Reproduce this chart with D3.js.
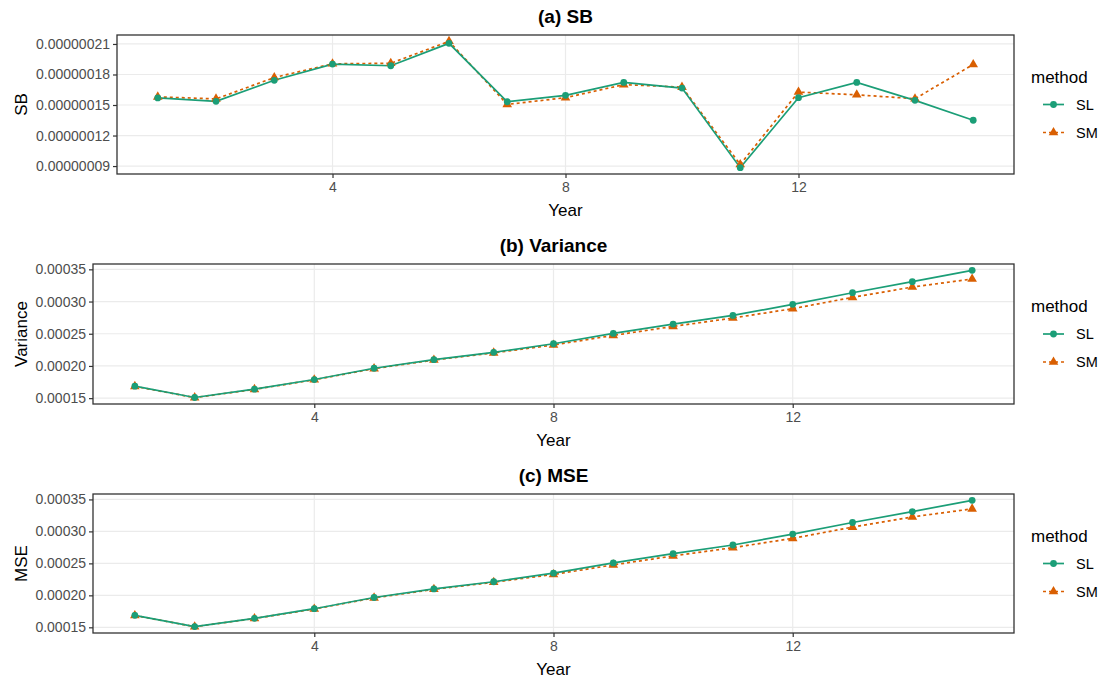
<!DOCTYPE html>
<html>
<head>
<meta charset="utf-8">
<script src="https://cdn.jsdelivr.net/npm/d3@7"></script>
<style>
body{margin:0;background:#fff;}
text{font-family:"Liberation Sans",Arial,sans-serif;}
</style>
</head>
<body>
<svg id="chart" width="1105" height="680"></svg>
<script>
// data
var years = [1,2,3,4,5,6,7,8,9,10,11,12,13,14,15];
var methods = ["SL","SM"];
var xTicks = [4,8,12];

var sbSL = [1.57e-7,1.536e-7,1.743e-7,1.902e-7,1.886e-7,2.106e-7,1.532e-7,1.595e-7,1.722e-7,1.666e-7,0.884e-7,1.572e-7,1.722e-7,1.546e-7,1.35e-7];
var sbSM = [1.58e-7,1.56e-7,1.77e-7,1.905e-7,1.91e-7,2.126e-7,1.506e-7,1.572e-7,1.70e-7,1.676e-7,0.916e-7,1.627e-7,1.60e-7,1.562e-7,1.898e-7];
var sbTicks = [0.9e-7,1.2e-7,1.5e-7,1.8e-7,2.1e-7];

var varSL = [1.686e-4,1.510e-4,1.639e-4,1.789e-4,1.964e-4,2.098e-4,2.211e-4,2.345e-4,2.505e-4,2.650e-4,2.785e-4,2.956e-4,3.137e-4,3.308e-4,3.484e-4];
var varSM = [1.683e-4,1.508e-4,1.636e-4,1.785e-4,1.958e-4,2.092e-4,2.203e-4,2.325e-4,2.474e-4,2.614e-4,2.744e-4,2.889e-4,3.065e-4,3.225e-4,3.350e-4];
var mseSL = [1.688e-4,1.512e-4,1.641e-4,1.791e-4,1.966e-4,2.100e-4,2.213e-4,2.347e-4,2.507e-4,2.652e-4,2.787e-4,2.958e-4,3.139e-4,3.310e-4,3.486e-4];
var mseSM = [1.685e-4,1.510e-4,1.638e-4,1.787e-4,1.960e-4,2.094e-4,2.205e-4,2.327e-4,2.476e-4,2.616e-4,2.746e-4,2.891e-4,3.067e-4,3.227e-4,3.352e-4];
var vTicks = [1.5e-4,2.0e-4,2.5e-4,3.0e-4,3.5e-4];

var colors = {SL:"#1b9e77", SM:"#d95f02"};

var svg = d3.select("#chart");
svg.append("rect").attr("width",1105).attr("height",680).attr("fill","#fff");

function drawPanel(p){
    var g = svg.append("g");
    var x = d3.scaleLinear().domain([0.3,15.7]).range([p.left,p.right]);
    var all = p.sl.concat(p.sm);
    var lo = d3.min(all), hi = d3.max(all), pad=(hi-lo)*0.05;
    var y = d3.scaleLinear().domain([lo-pad,hi+pad]).range([p.bottom,p.top]);

    // grid
    g.selectAll(".gy").data(p.ticks).enter().append("line")
        .attr("x1",p.left).attr("x2",p.right).attr("y1",d=>y(d)).attr("y2",d=>y(d))
        .attr("stroke","#ebebeb").attr("stroke-width",1.2);
    g.selectAll(".gx").data(xTicks).enter().append("line")
        .attr("y1",p.top).attr("y2",p.bottom).attr("x1",d=>x(d)).attr("x2",d=>x(d))
        .attr("stroke","#ebebeb").attr("stroke-width",1.2);

    // axes
    var ya = g.append("g").attr("transform","translate("+p.left+",0)")
        .call(d3.axisLeft(y).tickValues(p.ticks).tickFormat(d3.format(p.fmt)).tickSize(4).tickPadding(3));
    var xa = g.append("g").attr("transform","translate(0,"+p.bottom+")")
        .call(d3.axisBottom(x).tickValues(xTicks).tickSize(4).tickPadding(4));
    [ya,xa].forEach(function(a){
        a.select(".domain").remove();
        a.selectAll("line").attr("stroke","#333").attr("stroke-width",1.2);
        a.selectAll("text").attr("fill","#4d4d4d").style("font-size","14px");
    });

    var series = [{m:"SM",v:p.sm},{m:"SL",v:p.sl}];
    var line = d3.line().x((d,i)=>x(years[i])).y(d=>y(d));
    series.forEach(function(s){
        g.append("path").datum(s.v).attr("d",line).attr("fill","none")
            .attr("stroke",colors[s.m]).attr("stroke-width",1.7)
            .attr("stroke-dasharray",s.m=="SM"?"3,3":null);
    });
    series.forEach(function(s){
        if(s.m=="SM"){
            g.selectAll(null).data(s.v).enter().append("path")
                .attr("d",d3.symbol(d3.symbolTriangle,40))
                .attr("transform",(d,i)=>"translate("+x(years[i])+","+y(d)+")")
                .attr("fill",colors.SM);
        } else {
            g.selectAll(null).data(s.v).enter().append("circle")
                .attr("cx",(d,i)=>x(years[i])).attr("cy",d=>y(d)).attr("r",3.4)
                .attr("fill",colors.SL);
        }
    });

    // border
    g.append("rect").attr("x",p.left).attr("y",p.top).attr("width",p.right-p.left).attr("height",p.bottom-p.top)
        .attr("fill","none").attr("stroke","#333").attr("stroke-width",1.3);

    // texts
    g.append("text").attr("x",(p.left+p.right)/2).attr("y",p.top-12).attr("text-anchor","middle")
        .style("font-size","19px").style("font-weight","bold").text(p.title);
    g.append("text").attr("x",(p.left+p.right)/2).attr("y",p.bottom+42).attr("text-anchor","middle")
        .style("font-size","17px").text("Year");
    g.append("text").attr("transform","translate(27,"+(p.top+p.bottom)/2+") rotate(-90)")
        .attr("text-anchor","middle").style("font-size","17px").text(p.ylab);

    // legend
    var cy = (p.top+p.bottom)/2;
    g.append("text").attr("x",1031).attr("y",cy-22).style("font-size","17px").text("method");
    methods.forEach(function(m,i){
        var ky = cy+i*28;
        g.append("line").attr("x1",1043).attr("x2",1064).attr("y1",ky).attr("y2",ky)
            .attr("stroke",colors[m]).attr("stroke-width",1.7).attr("stroke-dasharray",m=="SM"?"3,3":null);
        if(m=="SL") g.append("circle").attr("cx",1053.5).attr("cy",ky).attr("r",3.4).attr("fill",colors.SL);
        else g.append("path").attr("d",d3.symbol(d3.symbolTriangle,40)).attr("transform","translate(1053.5,"+ky+")").attr("fill",colors.SM);
        g.append("text").attr("x",1076).attr("y",ky+5).style("font-size","14.5px").text(m);
    });
}

drawPanel({title:"(a) SB", ylab:"SB", sl:sbSL, sm:sbSM, ticks:sbTicks, fmt:".8f", left:117, right:1014, top:35, bottom:174});
drawPanel({title:"(b) Variance", ylab:"Variance", sl:varSL, sm:varSM, ticks:vTicks, fmt:".5f", left:93, right:1014, top:264, bottom:404});
drawPanel({title:"(c) MSE", ylab:"MSE", sl:mseSL, sm:mseSM, ticks:vTicks, fmt:".5f", left:93, right:1014, top:494, bottom:633});
</script>
</body>
</html>
